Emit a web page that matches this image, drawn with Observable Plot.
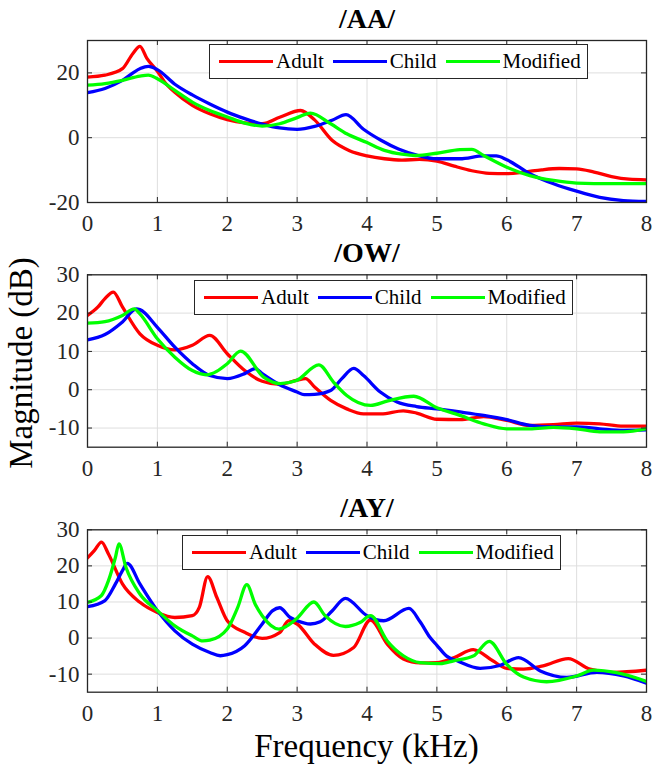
<!DOCTYPE html>
<html>
<head>
<meta charset="utf-8">
<script src="https://cdn.jsdelivr.net/npm/d3@7"></script>
<script src="https://cdn.jsdelivr.net/npm/@observablehq/plot@0.6"></script>
<style>
  body { margin: 0; background: #fff; }
  #fig { position: relative; width: 652px; height: 774px; overflow: hidden; background: #fff;
         font-family: "Liberation Serif", "Times New Roman", serif; }
  .panel { position: absolute; left: 0; }
  .legend { position: absolute; height: 35px; box-sizing: border-box; border: 1.3px solid #262626;
            background: #fff; display: flex; align-items: center; padding: 0 6px 0 9px;
            font-family: "Liberation Serif", serif; font-size: 21px; color: #000; white-space: nowrap; }
  .legend .sw { display: inline-block; width: 54px; height: 3.3px; margin-right: 3px; }
  .legend .item { display: flex; align-items: center; }
  .legend .item + .item { margin-left: 9px; }
  #overlay { position: absolute; left: 0; top: 0; pointer-events: none; }
</style>
</head>
<body>
<div id="fig"></div>
<script>
// ---------------- data ----------------
const seriesNames = ["Adult", "Child", "Modified"];
const seriesColors = ["#ff0000", "#0000ff", "#00ff00"];
const xTicks = [0, 1, 2, 3, 4, 5, 6, 7, 8];
const panelTitles = ["/AA/", "/OW/", "/AY/"];
const yTicksAA = [-20, 0, 20];
const yTicksOW = [-10, 0, 10, 20, 30];
const yTicksAY = [-10, 0, 10, 20, 30];

// /AA/
const aaAdultF = [0, 0.25, 0.5, 0.65, 0.75, 0.85, 1.0, 1.1, 1.25, 1.5, 1.75, 2.0, 2.25, 2.5, 2.75, 3.05, 3.25, 3.5, 3.75, 4.0, 4.25, 4.5, 4.75, 5.0, 5.25, 5.5, 5.75, 6.0, 6.25, 6.5, 6.75, 7.0, 7.25, 7.5, 7.75, 8.0];
const aaAdultV = [18.7, 19.3, 21.3, 26, 28.2, 24.5, 20.5, 17.3, 14, 10, 7.4, 5.6, 4.6, 4.3, 6.3, 8.4, 5.5, -0.8, -4, -5.6, -6.5, -6.9, -6.7, -7.2, -8.8, -10.2, -11, -11.1, -10.6, -9.9, -9.5, -9.6, -10.6, -12, -12.8, -13];
const aaChildF = [0, 0.25, 0.5, 0.75, 0.87, 1.0, 1.25, 1.5, 1.75, 2.0, 2.25, 2.5, 2.75, 3.0, 3.25, 3.5, 3.7, 3.95, 4.2, 4.45, 4.7, 5.0, 5.33, 5.67, 5.85, 6.0, 6.33, 6.67, 7.0, 7.33, 7.67, 8.0];
const aaChildV = [13.9, 15.2, 17.7, 21.3, 22, 21, 16.5, 13.2, 10.4, 7.9, 5.9, 4.2, 3, 2.6, 3.5, 5.4, 7.1, 2.6, -0.8, -3.5, -5.3, -6.5, -6.5, -5.6, -5.6, -6.8, -11.1, -14.2, -16.5, -18.4, -19.4, -19.7];
const aaModF = [0, 0.25, 0.5, 0.75, 0.87, 1.0, 1.25, 1.5, 1.75, 2.0, 2.25, 2.5, 2.75, 3.0, 3.19, 3.48, 3.71, 4.0, 4.25, 4.5, 4.7, 5.0, 5.33, 5.5, 5.67, 6.0, 6.33, 6.67, 7.0, 7.5, 8.0];
const aaModV = [16.2, 16.7, 17.7, 19, 19.3, 18.2, 14.6, 11, 8.4, 6.4, 4.5, 3.6, 4.3, 6.2, 7.6, 4.3, 1.2, -1.5, -3.9, -5.1, -5.5, -4.8, -3.7, -3.6, -5.5, -9.1, -11.7, -13.2, -14, -14.2, -14.2];

// /OW/
const owAdultF = [0, 0.15, 0.25, 0.37, 0.5, 0.75, 1.0, 1.25, 1.5, 1.75, 2.0, 2.25, 2.5, 2.75, 3.0, 3.12, 3.25, 3.48, 3.71, 3.95, 4.2, 4.52, 4.71, 5.0, 5.33, 5.67, 6.0, 6.33, 6.67, 7.0, 7.33, 7.67, 8.0];
const owAdultV = [19.4, 21.6, 23.8, 25.5, 21.6, 14.6, 11.6, 10.4, 11.6, 14.2, 9.4, 5, 2.2, 1.4, 2.5, 2.9, 0.7, -2.8, -5, -6.3, -6.3, -5.5, -6.1, -7.7, -7.8, -7, -8, -9.3, -9.1, -8.7, -8.9, -9.5, -9.5];
const owChildF = [0, 0.25, 0.5, 0.7, 0.75, 1.0, 1.25, 1.5, 1.75, 2.0, 2.25, 2.4, 2.5, 2.75, 3.0, 3.1, 3.25, 3.48, 3.64, 3.81, 3.95, 4.19, 4.43, 4.71, 5.0, 5.33, 5.67, 6.0, 6.33, 6.67, 7.0, 7.33, 7.67, 8.0];
const owChildV = [13, 14.4, 17.7, 21.1, 20.9, 16.3, 11.1, 6.8, 3.7, 2.9, 4.2, 5.5, 4.2, 1.3, -0.6, -1.3, -1.2, -0.2, 2.9, 5.6, 3.7, -0.6, -3.2, -4.4, -5, -5.8, -6.7, -7.8, -9.3, -9.7, -9.7, -10.2, -10.6, -10.5];
const owModF = [0, 0.25, 0.5, 0.67, 0.75, 1.0, 1.25, 1.5, 1.7, 2.0, 2.19, 2.52, 2.76, 2.99, 3.31, 3.52, 3.71, 4.05, 4.3, 4.67, 5.0, 5.33, 5.67, 6.0, 6.33, 6.67, 7.0, 7.33, 7.67, 8.0];
const owModV = [17.4, 17.8, 19.4, 21.1, 19.8, 13.3, 8.5, 5, 3.9, 6.8, 10.1, 3.3, 1.6, 2.4, 6.5, 2, -1.5, -4.1, -2.9, -1.7, -4.7, -6.7, -8.9, -10.2, -10.2, -9.8, -10.2, -11, -11, -10.2];

// /AY/
const ayAdultF = [0, 0.1, 0.2, 0.3, 0.5, 0.75, 1.0, 1.25, 1.5, 1.6, 1.72, 1.85, 2.0, 2.25, 2.5, 2.75, 2.88, 3.0, 3.25, 3.52, 3.81, 4.05, 4.29, 4.52, 4.76, 5.0, 5.25, 5.52, 5.8, 6.0, 6.24, 6.52, 6.88, 7.19, 7.52, 8.0];
const ayAdultV = [22.2, 24.3, 26.6, 23.3, 15, 9.9, 7.1, 5.7, 6.2, 8.5, 17, 11.3, 4.8, 1.6, -0.1, 1.5, 4.8, 3.9, -1.7, -4.8, -2.6, 5, -1.7, -5.8, -6.9, -6.8, -5.4, -3.2, -6.3, -8.4, -8.6, -7.7, -5.7, -8.6, -9.5, -8.9];
const ayChildF = [0, 0.25, 0.4, 0.5, 0.57, 0.75, 1.0, 1.25, 1.5, 1.75, 1.9, 2.0, 2.25, 2.5, 2.65, 2.75, 2.9, 3.0, 3.19, 3.33, 3.5, 3.69, 4.0, 4.24, 4.6, 4.76, 4.9, 5.0, 5.14, 5.29, 5.62, 5.9, 6.17, 6.48, 6.86, 7.29, 7.67, 8.0];
const ayChildV = [8.7, 10.4, 15, 18.7, 20.7, 15, 7.6, 2, -1.7, -4, -4.9, -4.6, -2.1, 3.9, 7.6, 8.4, 5.7, 4.8, 3.9, 4.5, 7.5, 11, 6.2, 4.8, 8.2, 4.5, 0.2, -2, -5, -6.3, -8.4, -7.6, -5.4, -9.1, -10.9, -9.5, -10.5, -12.5];
const ayModF = [0, 0.2, 0.3, 0.4, 0.45, 0.55, 0.75, 1.0, 1.25, 1.5, 1.65, 1.75, 2.0, 2.15, 2.28, 2.4, 2.5, 2.74, 2.85, 3.0, 3.24, 3.4, 3.69, 3.9, 4.05, 4.29, 4.52, 4.76, 5.05, 5.24, 5.52, 5.75, 6.0, 6.24, 6.57, 7.0, 7.24, 7.57, 8.0];
const ayModV = [9.9, 11.8, 15.9, 22.4, 26.1, 19.6, 12.2, 7.6, 3.4, 0.6, -0.8, -0.6, 2.5, 8.5, 14.8, 9.4, 6.2, 2.5, 3.3, 5.5, 10, 6.2, 3.2, 4.3, 6.2, -0.8, -4.9, -6.8, -7.1, -6.3, -5, -0.9, -7.3, -10.8, -12.1, -10.5, -8.9, -9.6, -12];

// ---------------- drawing ----------------
const fig = document.getElementById("fig");
const W = 652, ML = 87, MR = 6;
const INK = "#262626";
const SERIF = '"Liberation Serif", "Times New Roman", serif';

function toRows(fs, vs, name) { return fs.map((f, i) => ({f, v: vs[i], name})); }

function panel(cfg) {
  const {top, height, mt, mb, yDomain, yTicks, title, series, legend} = cfg;
  const ih = height - mt - mb, iw = W - ML - MR;
  const data = series.flatMap(s => toRows(s.f, s.v, s.name));
  const chart = Plot.plot({
    width: W, height, marginTop: mt, marginBottom: mb, marginLeft: ML, marginRight: MR,
    x: {domain: [0, 8]},
    y: {domain: yDomain},
    color: {domain: seriesNames, range: seriesColors},
    style: {fontFamily: SERIF, fontSize: "23px", color: INK, background: "transparent", overflow: "visible"},
    marks: [
      Plot.gridX(xTicks, {stroke: "#dedede", strokeOpacity: 1, strokeWidth: 1}),
      Plot.gridY(yTicks, {stroke: "#dedede", strokeOpacity: 1, strokeWidth: 1}),
      Plot.line(data, {x: "f", y: "v", z: "name", stroke: "name", strokeWidth: 3.3,
                       curve: "monotone-x", clip: true}),
      Plot.frame({stroke: INK, strokeWidth: 1.3}),
      Plot.tickX(xTicks, {x: d => d, insetTop: ih - 5, stroke: INK}),
      Plot.tickX(xTicks, {x: d => d, insetBottom: ih - 5, stroke: INK}),
      Plot.tickY(yTicks, {y: d => d, insetRight: iw - 5, stroke: INK}),
      Plot.tickY(yTicks, {y: d => d, insetLeft: iw - 5, stroke: INK}),
      Plot.axisX(xTicks, {tickSize: 0, tickPadding: 12, tickFormat: d => String(d), label: null, fill: INK}),
      Plot.axisY(yTicks, {tickSize: 0, tickPadding: 8, tickFormat: d => String(d), label: null, fill: INK}),
      Plot.text([title], {frameAnchor: "top", lineAnchor: "bottom", dy: -13, text: d => d,
                          fontWeight: "bold", fontSize: 28, fill: "#000"})
    ]
  });
  chart.classList.add("panel");
  chart.style.top = top + "px";
  fig.appendChild(chart);

  const lg = document.createElement("div");
  lg.className = "legend";
  lg.style.left = legend.left + "px";
  lg.style.top = legend.top + "px";
  seriesNames.forEach((n, i) => {
    const it = document.createElement("span");
    it.className = "item";
    const sw = document.createElement("span");
    sw.className = "sw";
    sw.style.background = seriesColors[i];
    const tx = document.createElement("span");
    tx.textContent = n;
    it.appendChild(sw); it.appendChild(tx);
    lg.appendChild(it);
  });
  fig.appendChild(lg);
}

panel({top: 0, height: 240, mt: 40, mb: 38, yDomain: [-20, 30], yTicks: yTicksAA, title: panelTitles[0],
  series: [{name: "Adult", f: aaAdultF, v: aaAdultV}, {name: "Child", f: aaChildF, v: aaChildV}, {name: "Modified", f: aaModF, v: aaModV}],
  legend: {left: 209, top: 44}});
panel({top: 240, height: 240, mt: 34.3, mb: 33.3, yDomain: [-15, 30], yTicks: yTicksOW, title: panelTitles[1],
  series: [{name: "Adult", f: owAdultF, v: owAdultV}, {name: "Child", f: owChildF, v: owChildV}, {name: "Modified", f: owModF, v: owModV}],
  legend: {left: 194, top: 280}});
panel({top: 490, height: 240, mt: 39.3, mb: 38.3, yDomain: [-15, 30], yTicks: yTicksAY, title: panelTitles[2],
  series: [{name: "Adult", f: ayAdultF, v: ayAdultV}, {name: "Child", f: ayChildF, v: ayChildV}, {name: "Modified", f: ayModF, v: ayModV}],
  legend: {left: 182, top: 535}});

// axis labels overlay
const ov = d3.select(fig).append("svg").attr("id", "overlay").attr("width", W).attr("height", 774);
ov.append("text").attr("transform", "translate(32,363) rotate(-90)").attr("text-anchor", "middle")
  .attr("font-family", SERIF).attr("font-size", 33).attr("fill", "#000")
  .text("Magnitude (dB)");
ov.append("text").attr("x", 366.5).attr("y", 757).attr("text-anchor", "middle")
  .attr("font-family", SERIF).attr("font-size", 33).attr("fill", "#000")
  .text("Frequency (kHz)");
</script>
</body>
</html>
